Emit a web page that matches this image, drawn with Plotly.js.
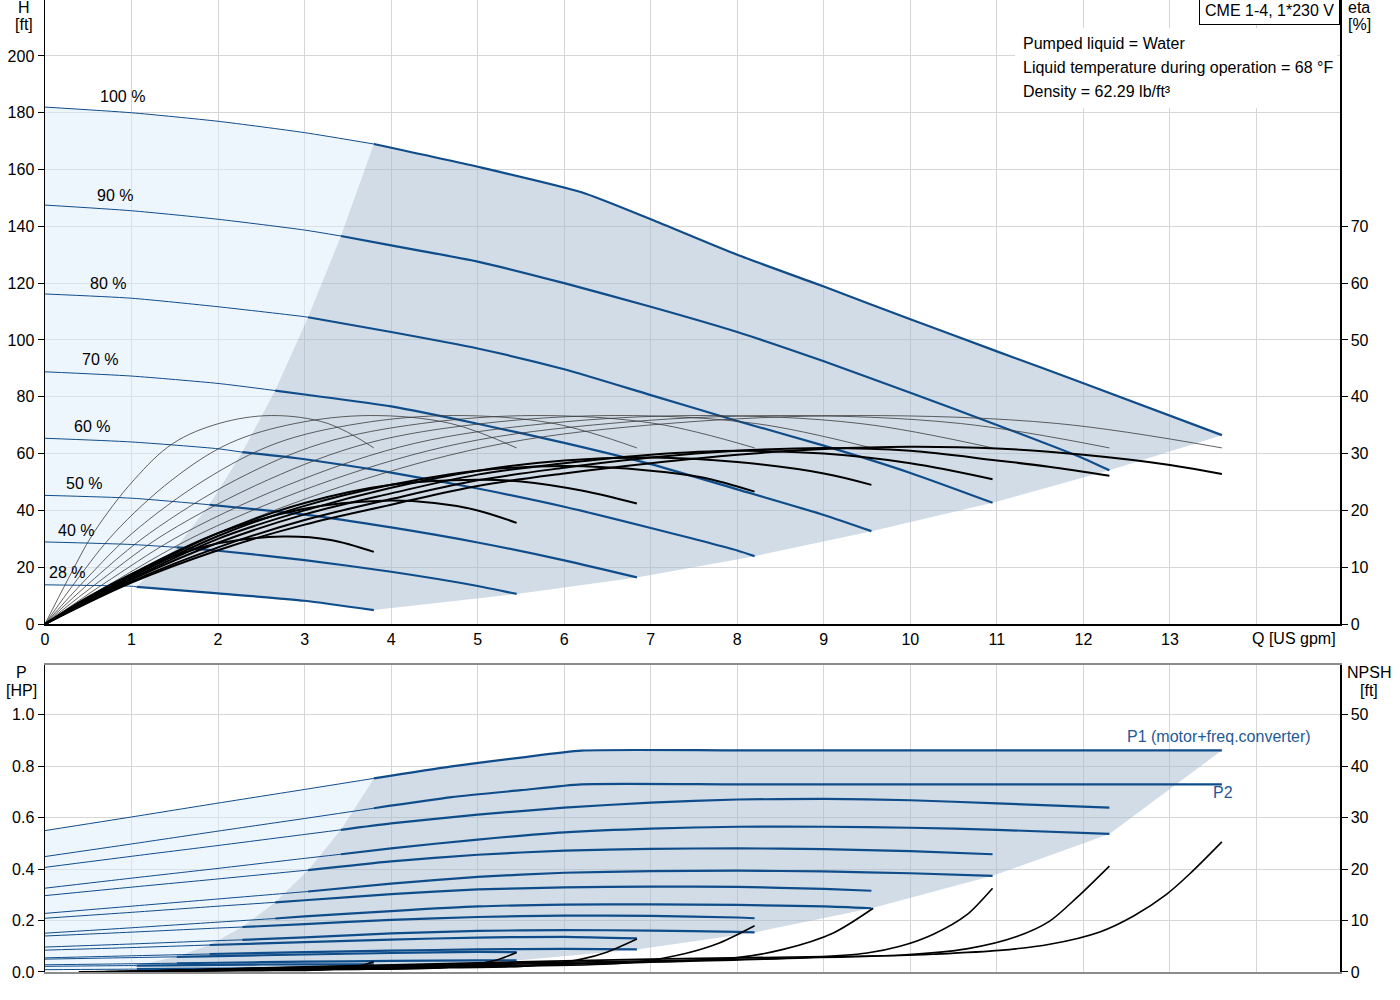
<!DOCTYPE html>
<html lang="es">
<head>
<meta charset="utf-8">
<title>CME 1-4, 1*230 V</title>
<script src="https://cdn.plot.ly/plotly-3.0.1.min.js"></script>
<style>
  html, body { margin: 0; padding: 0; background: #fff; }
  #grafico { width: 1400px; height: 1000px; }
</style>
</head>
<body>
<div id="grafico"></div>
<script>
// Velocidades y caudal donde empieza la zona recomendada
const velocidades = ['100 %', '90 %', '80 %', '70 %', '60 %', '50 %', '40 %', '28 %'];
const qLimite = [3.8, 3.42, 3.04, 2.66, 2.28, 1.9, 1.52, 1.06];

// Curvas H-Q [US gpm, ft]
const alturaQ = [
  [0, 1, 2, 3, 3.8, 5, 6.2, 7, 8, 9, 10, 11, 12, 13.6],
  [0, 1, 2, 3, 3.42, 4, 5, 6, 7, 8, 9, 10, 11, 12, 12.3],
  [0, 1, 2, 3, 3.04, 4, 5, 6, 7, 8, 9, 10, 10.95],
  [0, 1, 2, 2.66, 3, 4, 5, 6, 7, 8, 9, 9.55],
  [0, 1, 2, 2.28, 3, 4, 5, 6, 7, 8, 8.2],
  [0, 1, 1.9, 3, 4, 5, 6, 6.84],
  [0, 1, 1.52, 2, 3, 4, 5, 5.45],
  [0, 1, 1.06, 2, 3, 3.8]
];
const alturaH = [
  [182, 180, 177, 173, 169, 161, 152, 142.5, 130, 118.8, 107.3, 96, 84.8, 66.5],
  [147.5, 145.5, 142.5, 138.7, 136.6, 133.3, 127.6, 120, 111.7, 102.8, 92.5, 81.4, 70.1, 58.3, 54.1],
  [116.2, 114.7, 111.7, 108.2, 108, 102.8, 97, 89.7, 80.6, 71.5, 62.8, 53.2, 42.7],
  [88.8, 87.3, 84.7, 82.2, 80.8, 76.6, 70.5, 63.8, 56.3, 47.4, 38.4, 32.7],
  [65.4, 64.1, 61.7, 60.5, 58, 53.3, 47.7, 41.3, 33.8, 25.9, 23.9],
  [45.3, 44.3, 42, 38.5, 34, 28.7, 22.4, 16.4],
  [28.9, 28, 27, 25.8, 22.5, 18.4, 13.4, 10.6],
  [13.8, 13.3, 13.1, 10.8, 8.2, 4.9]
];

// Rendimiento de la bomba (curvas finas) [%]
const etaBombaQ = [
  [0, 0.95, 2, 3.67, 5.3, 7.2, 9.38, 11.7, 13.6],
  [0, 0.86, 1.81, 3.32, 4.8, 6.52, 8.49, 10.58, 12.3],
  [0, 0.77, 1.61, 2.96, 4.27, 5.8, 7.56, 9.42, 10.95],
  [0, 0.67, 1.4, 2.58, 3.72, 5.06, 6.59, 8.21, 9.55],
  [0, 0.57, 1.21, 2.21, 3.2, 4.35, 5.66, 7.05, 8.2],
  [0, 0.48, 1.01, 1.85, 2.67, 3.63, 4.72, 5.88, 6.84],
  [0, 0.38, 0.8, 1.47, 2.13, 2.89, 3.76, 4.69, 5.45],
  [0, 0.27, 0.56, 1.03, 1.48, 2.01, 2.62, 3.27, 3.8]
];
const etaBomba = [0, 8, 16, 25.4, 31.8, 35.3, 36.7, 35.3, 31];

// Rendimiento total (curvas gruesas) [%]
const etaTotalQ = [
  [0, 1, 2, 3, 4, 5, 6, 7, 8, 9, 10, 11, 12, 13, 13.6],
  [0, 1, 2, 3, 4, 5, 6, 7, 8, 9, 10, 11, 11.6, 12.3],
  [0, 1, 2, 3, 4, 5, 6, 7, 8, 9, 10, 10.95],
  [0, 1, 2, 3, 4, 5, 6, 7, 8, 9, 9.55],
  [0, 1, 2, 3, 4, 5, 6, 7, 7.6, 8.2],
  [0, 1, 2, 3, 4, 5, 5.5, 6.2, 6.84],
  [0, 1, 2, 3, 3.9, 4.5, 5, 5.45],
  [0, 0.5, 1, 1.5, 2, 2.75, 3.3, 3.8]
];
const etaTotal = [
  [0, 7.3, 13, 17.5, 21, 24.3, 26.5, 28.3, 29.8, 30.8, 31.2, 30.9, 29.8, 28, 26.4],
  [0, 7.5, 13.5, 18.3, 22, 25.3, 27.5, 29.3, 30.5, 31, 30.5, 28.8, 27.7, 26.1],
  [0, 7.8, 14.3, 19.3, 23, 26.3, 28.3, 29.8, 30.5, 30, 28.3, 25.5],
  [0, 8, 15, 20, 24, 27, 28.8, 29.3, 28.5, 26.5, 24.5],
  [0, 8.3, 15.5, 20.8, 24.5, 27, 27.8, 27, 25.8, 23.3],
  [0, 8.5, 16, 21.3, 24.5, 25.4, 25.1, 23.5, 21.2],
  [0, 8.8, 16, 20.3, 21.7, 21.3, 20, 17.8],
  [0, 4.8, 8.8, 12, 14.2, 15.4, 14.8, 12.7]
];

// Potencias P1 y P2 [HP]
const potenciaQ = [
  [0, 1, 2, 3, 3.8, 4.7, 5.5, 6.2, 8, 10, 12, 13.6],
  [0, 1, 2, 3, 3.42, 4, 5, 6, 7, 8, 9, 10, 11, 12.3],
  [0, 1, 2, 3, 3.04, 4, 5, 6, 7, 8, 9, 10, 10.95],
  [0, 1, 2, 2.66, 3, 4, 5, 6, 7, 8, 9, 9.55],
  [0, 1, 2, 2.28, 3, 4, 5, 6, 7, 8, 8.2],
  [0, 1, 1.9, 3, 4, 5, 6, 6.84],
  [0, 1, 1.52, 2, 3, 4, 5, 5.45],
  [0, 1, 1.06, 2, 3, 3.8]
];
const potenciaP1 = [
  [0.55, 0.603, 0.657, 0.71, 0.753, 0.8, 0.834, 0.861, 0.862, 0.862, 0.862, 0.862],
  [0.407, 0.45, 0.492, 0.535, 0.553, 0.578, 0.612, 0.639, 0.659, 0.671, 0.673, 0.668, 0.656, 0.639],
  [0.297, 0.33, 0.362, 0.395, 0.396, 0.43, 0.456, 0.472, 0.479, 0.481, 0.478, 0.47, 0.458],
  [0.209, 0.232, 0.256, 0.271, 0.279, 0.303, 0.321, 0.329, 0.332, 0.331, 0.323, 0.316],
  [0.14, 0.155, 0.171, 0.175, 0.186, 0.203, 0.214, 0.219, 0.218, 0.212, 0.209],
  [0.085, 0.095, 0.105, 0.116, 0.126, 0.134, 0.137, 0.131],
  [0.05, 0.056, 0.059, 0.062, 0.068, 0.074, 0.078, 0.077],
  [0.022, 0.025, 0.025, 0.028, 0.03, 0.03]
];
const potenciaP2 = [
  [0.449, 0.498, 0.548, 0.597, 0.637, 0.68, 0.707, 0.73, 0.73, 0.73, 0.73, 0.73],
  [0.326, 0.365, 0.403, 0.442, 0.458, 0.481, 0.515, 0.543, 0.558, 0.565, 0.565, 0.561, 0.553, 0.537],
  [0.228, 0.256, 0.284, 0.312, 0.313, 0.344, 0.37, 0.386, 0.392, 0.394, 0.391, 0.384, 0.374],
  [0.151, 0.172, 0.194, 0.208, 0.216, 0.237, 0.255, 0.262, 0.263, 0.261, 0.255, 0.248],
  [0.097, 0.109, 0.122, 0.125, 0.135, 0.15, 0.16, 0.163, 0.161, 0.156, 0.154],
  [0.055, 0.063, 0.07, 0.077, 0.083, 0.088, 0.09, 0.088],
  [0.028, 0.032, 0.034, 0.036, 0.04, 0.043, 0.045, 0.045],
  [0.009, 0.011, 0.011, 0.013, 0.015, 0.016]
];

// NPSH requerido [ft]
const npshQ = [
  [1.4, 3, 5, 7, 9, 9.88, 10.26, 11.03, 11.61, 12.19, 12.58, 12.96, 13.23, 13.6],
  [1.26, 2.7, 4.5, 6.3, 8.1, 9.9, 10.65, 11.23, 11.61, 11.92, 12.3],
  [1.12, 2.4, 4, 5.6, 7.2, 8.8, 9.5, 9.88, 10.26, 10.65, 10.95],
  [0.98, 2.1, 3.5, 4.9, 6.3, 7.95, 8.53, 9.11, 9.57],
  [0.84, 1.8, 3, 4.2, 5.4, 6.6, 7, 7.4, 7.8, 8.2],
  [0.7, 1.5, 2.5, 3.5, 4.5, 5.5, 5.85, 6.2, 6.5, 6.84],
  [0.56, 1.2, 2, 2.8, 3.6, 4.4, 4.7, 5, 5.25, 5.45],
  [0.39, 0.84, 1.4, 2, 2.5, 3.1, 3.3, 3.5, 3.65, 3.8]
];
const npshH = [
  [0.3, 1, 1.8, 2.5, 3, 3.2, 3.45, 4.2, 5.4, 7.8, 10.9, 15.1, 19.1, 25.3],
  [0.25, 0.8, 1.45, 2, 2.5, 3.3, 4.5, 6.9, 9.9, 14.4, 20.6],
  [0.2, 0.65, 1.15, 1.6, 2, 2.8, 3.7, 5, 7.3, 11.1, 16.3],
  [0.15, 0.5, 0.9, 1.2, 1.6, 2.7, 4.4, 7.6, 12.4],
  [0.1, 0.36, 0.65, 0.9, 1.1, 1.6, 2.3, 3.6, 5.7, 9],
  [0.08, 0.25, 0.45, 0.62, 0.78, 1.1, 1.6, 2.5, 3.9, 6.4],
  [0.05, 0.16, 0.29, 0.4, 0.5, 0.7, 1, 1.6, 2.5, 3.8],
  [0.02, 0.08, 0.14, 0.2, 0.26, 0.36, 0.52, 0.8, 1.25, 2]
];

const AZUL = '#0f4c8a';
const FUENTE = '"Liberation Sans", Arial, sans-serif';

const Grafico = {
  iniciar() {
    const trazas = [
      ...this.zonas(alturaQ, alturaH, alturaH, 'x', 'y'),
      ...this.zonas(potenciaQ, potenciaP1, potenciaP2, 'x2', 'y3'),
      ...this.curvasEficiencia(),
      ...this.curvasPartidas(alturaQ, alturaH, 'x', 'y'),
      ...this.curvasPartidas(potenciaQ, potenciaP2, 'x2', 'y3'),
      ...this.curvasPartidas(potenciaQ, potenciaP1, 'x2', 'y3'),
      ...this.curvasNpsh()
    ];
    Plotly.newPlot('grafico', trazas, this.disposicion(), { displayModeBar: false, staticPlot: true });
  },

  linea(x, y, xa, ya, color, ancho, suavizado) {
    return {
      x, y, xaxis: xa, yaxis: ya, mode: 'lines', hoverinfo: 'skip',
      line: { color, width: ancho, shape: 'spline', smoothing: suavizado }
    };
  },

  relleno(x, y, xa, ya, color) {
    return {
      x, y, xaxis: xa, yaxis: ya, mode: 'lines', fill: 'toself', fillcolor: color,
      line: { width: 0 }, hoverinfo: 'skip'
    };
  },

  // Zona clara (izquierda) y zona gris (recomendada)
  zonas(qArr, sup, inf, xa, ya) {
    const ult = qArr.length - 1;
    const borde = qLimite.map((qb, s) => [qb, sup[s][qArr[s].indexOf(qb)]]);
    const i0 = qArr[0].indexOf(qLimite[0]);
    const qU = qArr[ult];
    const iU = qU.indexOf(qLimite[ult]);

    const gx = qArr[0].slice(i0);
    const gy = sup[0].slice(i0);
    for (let s = 1; s <= ult; s++) {
      gx.push(qArr[s][qArr[s].length - 1]);
      gy.push(inf[s][inf[s].length - 1]);
    }
    for (let j = qU.length - 2; j >= iU; j--) {
      gx.push(qU[j]);
      gy.push(inf[ult][j]);
    }
    for (let s = ult; s >= 1; s--) {
      gx.push(borde[s][0]);
      gy.push(borde[s][1]);
    }

    const cx = qArr[0].slice(0, i0 + 1);
    const cy = sup[0].slice(0, i0 + 1);
    for (let s = 1; s <= ult; s++) {
      cx.push(borde[s][0]);
      cy.push(borde[s][1]);
    }
    for (let j = iU; j >= 0; j--) {
      cx.push(qU[j]);
      cy.push(inf[ult][j]);
    }

    return [
      this.relleno(cx, cy, xa, ya, 'rgba(221,237,251,0.5)'),
      this.relleno(gx, gy, xa, ya, 'rgba(163,185,207,0.5)')
    ];
  },

  // Tramo fino antes del límite, grueso después
  curvasPartidas(qArr, yArr, xa, ya) {
    const trazas = [];
    qArr.forEach((q, s) => {
      const i = q.indexOf(qLimite[s]);
      trazas.push(this.linea(q.slice(0, i + 1), yArr[s].slice(0, i + 1), xa, ya, AZUL, 1, 0.6));
      trazas.push(this.linea(q.slice(i), yArr[s].slice(i), xa, ya, AZUL, 2.2, 0.6));
    });
    return trazas;
  },

  curvasEficiencia() {
    const finas = etaBombaQ.map(q => this.linea(q, etaBomba, 'x', 'y2', '#3a3a3a', 0.8, 1));
    const gruesas = etaTotalQ.map((q, s) => this.linea(q, etaTotal[s], 'x', 'y2', '#000', 2, 1));
    return [...finas, ...gruesas];
  },

  curvasNpsh() {
    return npshQ.map((q, s) => this.linea(q, npshH[s], 'x2', 'y4', '#000', 1.6, 0.8));
  },

  texto(t, x, y, extra) {
    return Object.assign({
      text: t, xref: 'paper', yref: 'paper', x, y, xanchor: 'center', yanchor: 'middle',
      showarrow: false, font: { size: 16 }
    }, extra || {});
  },

  disposicion() {
    const rejilla = '#d6d6d6';
    const ejeY = {
      showline: true, linecolor: '#000', linewidth: 1.5, ticks: 'outside', ticklen: 6,
      tickcolor: '#000', zeroline: false, tickfont: { size: 16 }
    };
    const valoresQ = [0, 1, 2, 3, 4, 5, 6, 7, 8, 9, 10, 11, 12, 13, 14];
    const textosQ = valoresQ.map(v => (v < 14 ? String(v) : ''));

    const etiquetas = velocidades.map((t, s) => ({
      text: t, xref: 'x', yref: 'y', showarrow: false,
      x: [0.9, 0.81, 0.73, 0.64, 0.54, 0.45, 0.36, 0.25][s],
      y: [185.6, 151, 120, 93, 69.4, 49.6, 33.1, 18.3][s],
      font: { size: 16 }
    }));

    const notas = [
      this.texto('CME 1-4, 1*230 V', 1, 1.004, { xanchor: 'right', yanchor: 'top', bgcolor: '#fff',
        bordercolor: '#000', borderwidth: 1, borderpad: 5 }),
      this.texto('Pumped liquid = Water', 0.7537, 0.955, { xanchor: 'left' }),
      this.texto('Liquid temperature during operation = 68 °F', 0.7537, 0.9303, { xanchor: 'left' }),
      this.texto('Density = 62.29 lb/ft³', 0.7537, 0.9056, { xanchor: 'left' }),
      this.texto('H', -0.0162, 0.9918),
      this.texto('[ft]', -0.0162, 0.9743),
      this.texto('eta', 1.0147, 0.9918),
      this.texto('[%]', 1.0147, 0.9743),
      this.texto('P', -0.0178, 0.3086),
      this.texto('[HP]', -0.0178, 0.2901),
      this.texto('NPSH', 1.0224, 0.3086),
      this.texto('[ft]', 1.0224, 0.2901),
      this.texto('Q [US gpm]', 13.93, 0.3426, { xref: 'x', xanchor: 'left' }),
      this.texto('P1 (motor+freq.converter)', 14.65, 0.914, { xref: 'x', yref: 'y3', xanchor: 'right',
        font: { size: 16, color: '#1f5a96' } }),
      this.texto('P2', 13.61, 0.697, { xref: 'x', yref: 'y3', font: { size: 16, color: '#1f5a96' } })
    ];

    return {
      width: 1400,
      height: 1000,
      margin: { l: 45, r: 60, t: 0, b: 28 },
      paper_bgcolor: '#fff',
      plot_bgcolor: 'rgba(0,0,0,0)',
      font: { family: FUENTE, size: 16, color: '#000' },
      showlegend: false,
      hovermode: false,
      xaxis: {
        domain: [0, 1], anchor: 'y', range: [0, 14.965], tickvals: valoresQ, ticktext: textosQ,
        ticks: '', showgrid: true, gridcolor: rejilla, showline: true, linecolor: '#000', linewidth: 1.5,
        zeroline: false, tickfont: { size: 16 }
      },
      yaxis: Object.assign({}, ejeY, {
        domain: [0.358, 1], anchor: 'x', range: [0, 219.7],
        tickvals: [0, 20, 40, 60, 80, 100, 120, 140, 160, 180, 200], showgrid: true, gridcolor: rejilla
      }),
      yaxis2: Object.assign({}, ejeY, {
        overlaying: 'y', anchor: 'x', side: 'right', range: [0, 109.85],
        tickvals: [0, 10, 20, 30, 40, 50, 60, 70], showgrid: false
      }),
      xaxis2: {
        domain: [0, 1], anchor: 'y3', range: [0, 14.965], tickvals: valoresQ, showticklabels: false,
        ticks: '', showgrid: true, gridcolor: rejilla, showline: true, mirror: true, linecolor: '#8c8c8c',
        linewidth: 1.5, zeroline: false
      },
      yaxis3: Object.assign({}, ejeY, {
        domain: [0, 0.316], anchor: 'x2', range: [0, 1.1946],
        tickvals: [0, 0.2, 0.4, 0.6, 0.8, 1.0], tickformat: '.1f', showgrid: true, gridcolor: rejilla
      }),
      yaxis4: Object.assign({}, ejeY, {
        overlaying: 'y3', anchor: 'x2', side: 'right', range: [0, 59.73],
        tickvals: [0, 10, 20, 30, 40, 50], showgrid: false
      }),
      shapes: [
        { type: 'rect', xref: 'paper', yref: 'paper', x0: 0.749, x1: 0.998, y0: 0.889, y1: 0.971,
          fillcolor: '#fff', line: { width: 0 }, layer: 'above' }
      ],
      annotations: [...etiquetas, ...notas]
    };
  }
};

document.addEventListener('DOMContentLoaded', () => {
  Grafico.iniciar();
});
</script>
</body>
</html>
